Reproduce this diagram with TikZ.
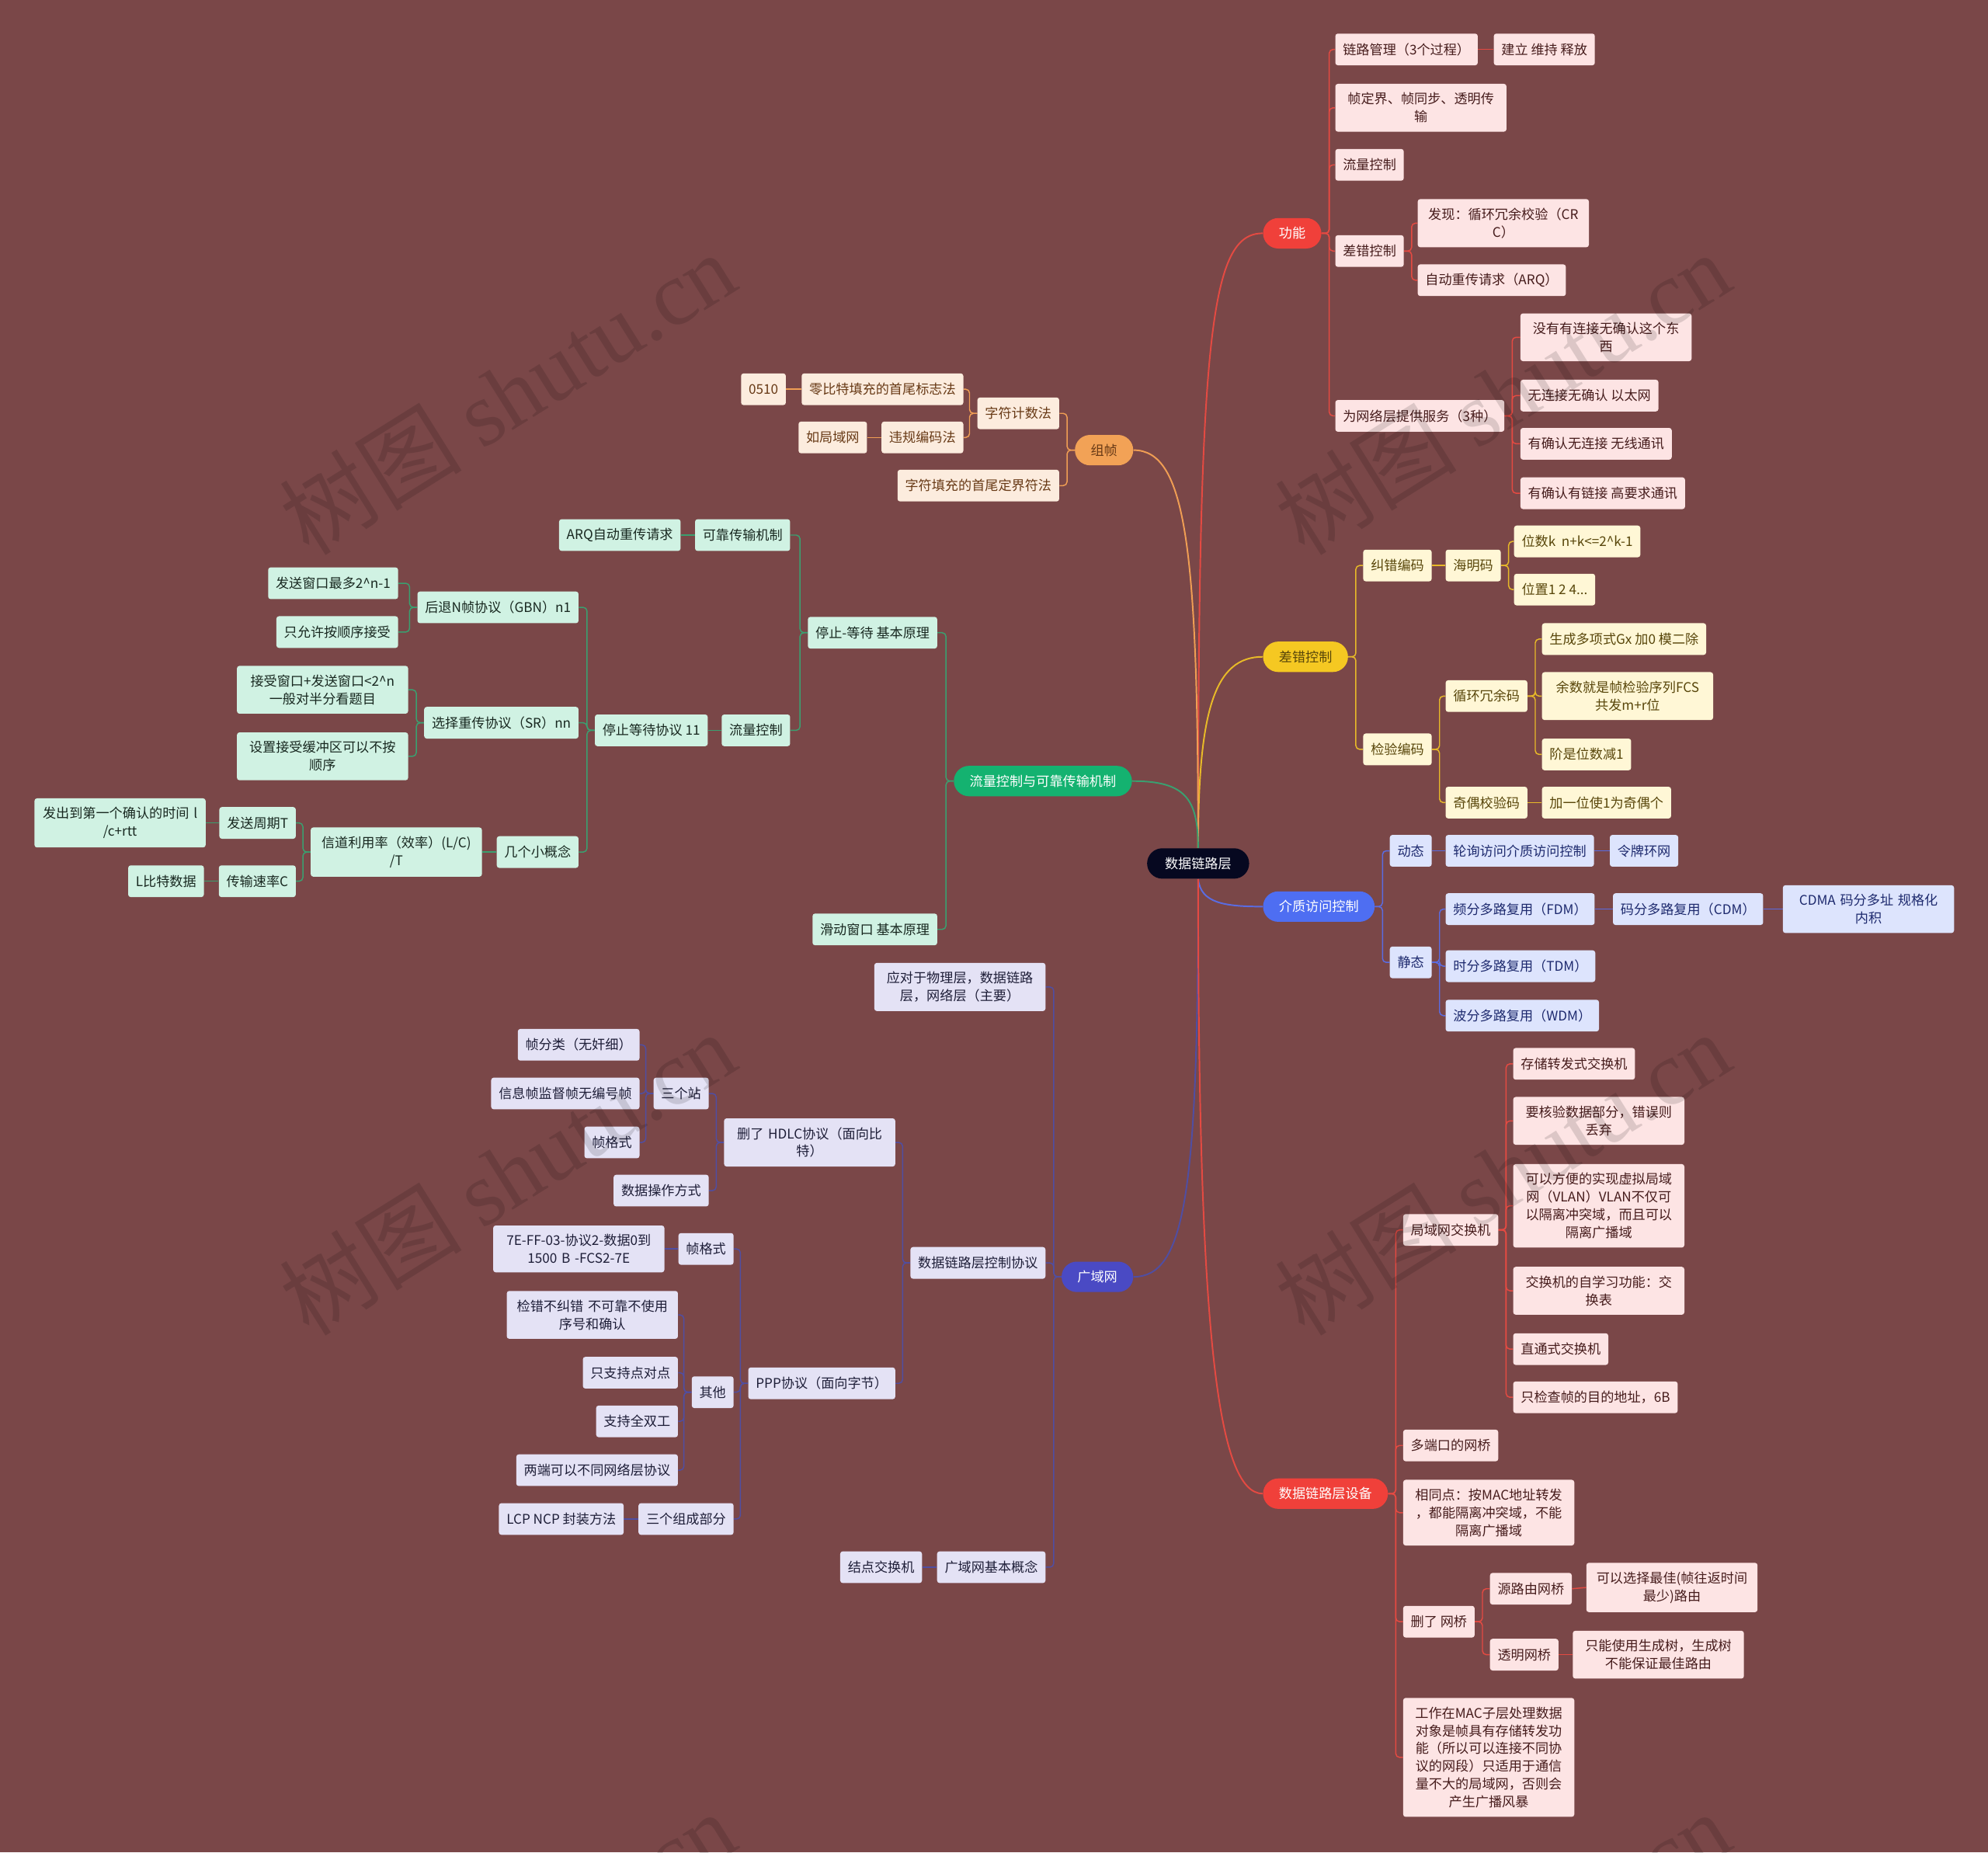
\documentclass[tikz,border=0pt]{standalone}
\usepackage{fontspec}
\setmainfont{Noto Sans CJK SC}
\newfontfamily\wmfont{Liberation Serif}
\usetikzlibrary{backgrounds}
\definecolor{bgMaroon}{RGB}{122, 71, 72}
\definecolor{rootInk}{RGB}{6, 8, 32}
\definecolor{redPill}{RGB}{240, 64, 58}
\definecolor{redLine}{RGB}{228, 74, 66}
\definecolor{redFill}{RGB}{253, 228, 228}
\definecolor{redInk}{RGB}{70, 28, 28}
\definecolor{orangePill}{RGB}{242, 162, 86}
\definecolor{orangeLine}{RGB}{240, 158, 84}
\definecolor{orangeFill}{RGB}{252, 236, 222}
\definecolor{orangeInk}{RGB}{104, 58, 22}
\definecolor{yellowPill}{RGB}{245, 200, 34}
\definecolor{yellowLine}{RGB}{232, 186, 40}
\definecolor{yellowFill}{RGB}{255, 247, 214}
\definecolor{yellowInk}{RGB}{88, 70, 10}
\definecolor{greenPill}{RGB}{20, 178, 112}
\definecolor{greenLine}{RGB}{58, 160, 112}
\definecolor{greenFill}{RGB}{208, 242, 227}
\definecolor{greenInk}{RGB}{24, 40, 32}
\definecolor{bluePill}{RGB}{78, 110, 242}
\definecolor{blueLine}{RGB}{90, 108, 226}
\definecolor{blueFill}{RGB}{221, 228, 253}
\definecolor{blueInk}{RGB}{30, 42, 110}
\definecolor{indigoPill}{RGB}{74, 74, 196}
\definecolor{indigoLine}{RGB}{80, 78, 162}
\definecolor{indigoFill}{RGB}{228, 226, 245}
\definecolor{indigoInk}{RGB}{30, 30, 56}

\begin{document}
\begin{tikzpicture}[
        x=1pt, y=-1pt,
        every node/.style={font=\fontsize{10.5pt}{14pt}\selectfont},
        leaf/.style={rounded corners=2pt, inner xsep=6pt, inner ysep=7pt, minimum height=25pt, align=center},
        leafwide/.style={text width=123pt},
        pill/.style={rounded corners=12pt, inner xsep=12.5pt, inner ysep=6pt, minimum height=24pt},
        fnBox/.style={leaf, fill=redFill, text=redInk},
        zzBox/.style={leaf, fill=orangeFill, text=orangeInk},
        ccBox/.style={leaf, fill=yellowFill, text=yellowInk},
        llBox/.style={leaf, fill=greenFill, text=greenInk},
        jzBox/.style={leaf, fill=blueFill, text=blueInk},
        gyBox/.style={leaf, fill=indigoFill, text=indigoInk},
        lnk/.style={rounded corners=3pt, line width=0.9pt},
        stem/.style={line width=1.2pt},
        wm/.style={font=\fontsize{72pt}{72pt}\selectfont, text=black, text opacity=0.13, rotate=32}
    ]
        \useasboundingbox (0,0) rectangle (1568,1461);
        \begin{pgfonlayer}{background}
            \fill[bgMaroon] (0,0) rectangle (1568,1461);
        \end{pgfonlayer}

        % Root and main branches
        \node[pill, inner xsep=14pt, fill=rootInk, text=white] (root) at (945,681) {数据链路层};
        \node[pill, anchor=west, fill=redPill, text=white] (gn) at (996,184) {功能};
        \node[pill, anchor=east, fill=orangePill, text=orangeInk] (zz) at (894,355) {组帧};
        \node[pill, anchor=west, fill=yellowPill, text=yellowInk] (cc) at (996,518) {差错控制};
        \node[pill, anchor=east, fill=greenPill, text=white] (ll) at (893,616) {流量控制与可靠传输机制};
        \node[pill, anchor=west, fill=bluePill, text=white] (jz) at (996,715) {介质访问控制};
        \node[pill, anchor=east, fill=indigoPill, text=white] (gy) at (894,1007) {广域网};
        \node[pill, anchor=west, fill=redPill, text=white] (sb) at (996,1178) {数据链路层设备};

        % 功能
        \node[fnBox, anchor=west] (gn1) at (1053,39) {链路管理（3个过程）};
        \node[fnBox, anchor=west] (gn1a) at (1178,39) {建立 维持 释放};
        \node[fnBox, leafwide, anchor=west] (gn2) at (1053,85) {帧定界、帧同步、透明传\\输};
        \node[fnBox, anchor=west] (gn3) at (1053,130) {流量控制};
        \node[fnBox, anchor=west] (gn4) at (1053,198) {差错控制};
        \node[fnBox, leafwide, anchor=west] (gn4a) at (1118,176) {发现：循环冗余校验（CR\\C）};
        \node[fnBox, anchor=west] (gn4b) at (1118,221) {自动重传请求（ARQ）};
        \node[fnBox, anchor=west] (gn5) at (1053,328) {为网络层提供服务（3种）};
        \node[fnBox, leafwide, anchor=west] (gn5a) at (1199,266) {没有有连接无确认这个东\\西};
        \node[fnBox, anchor=west] (gn5b) at (1199,312) {无连接无确认 以太网};
        \node[fnBox, anchor=west] (gn5c) at (1199,350) {有确认无连接 无线通讯};
        \node[fnBox, anchor=west] (gn5d) at (1199,389) {有确认有链接 高要求通讯};

        % 组帧
        \node[zzBox, anchor=east] (zz1) at (835.6,326) {字符计数法};
        \node[zzBox, anchor=east] (zz1a) at (760,307) {零比特填充的首尾标志法};
        \node[zzBox, anchor=east] (zz1a1) at (620,307) {0510};
        \node[zzBox, anchor=east] (zz1b) at (760,345) {违规编码法};
        \node[zzBox, anchor=east] (zz1b1) at (684,345) {如局域网};
        \node[zzBox, anchor=east] (zz2) at (835.6,383) {字符填充的首尾定界符法};

        % 差错控制
        \node[ccBox, anchor=west] (cc1) at (1075,446) {纠错编码};
        \node[ccBox, anchor=west] (cc1a) at (1140,446) {海明码};
        \node[ccBox, anchor=west] (cc1a1) at (1194,427) {位数k\ \ n+k<=2\textasciicircum k-1};
        \node[ccBox, anchor=west] (cc1a2) at (1194,465) {位置1 2 4...};
        \node[ccBox, anchor=west] (cc2) at (1075,591) {检验编码};
        \node[ccBox, anchor=west] (cc2a) at (1140,549) {循环冗余码};
        \node[ccBox, anchor=west] (cc2a1) at (1216,504) {生成多项式Gx 加0 模二除};
        \node[ccBox, leafwide, anchor=west] (cc2a2) at (1216,549) {余数就是帧检验序列FCS\\共发m+r位};
        \node[ccBox, anchor=west] (cc2a3) at (1216,595) {阶是位数减1};
        \node[ccBox, anchor=west] (cc2b) at (1140,633) {奇偶校验码};
        \node[ccBox, anchor=west] (cc2b1) at (1216,633) {加一位使1为奇偶个};

        % 流量控制与可靠传输机制
        \node[llBox, anchor=east] (ll1) at (739.4,499) {停止-等待 基本原理};
        \node[llBox, anchor=east] (ll2) at (739.4,733) {滑动窗口 基本原理};
        \node[llBox, anchor=east] (ll1a) at (623.4,422) {可靠传输机制};
        \node[llBox, anchor=east] (ll1a1) at (537,422) {ARQ自动重传请求};
        \node[llBox, anchor=east] (ll1b) at (623.4,576) {流量控制};
        \node[llBox, anchor=east] (ll1b1) at (558.4,576) {停止等待协议 11};
        \node[llBox, anchor=east] (g1) at (456.5,479) {后退N帧协议（GBN）n1};
        \node[llBox, anchor=east] (g1a) at (314.2,460) {发送窗口最多2\textasciicircum n-1};
        \node[llBox, anchor=east] (g1b) at (314.2,498.5) {只允许按顺序接受};
        \node[llBox, anchor=east] (g2) at (456.5,570) {选择重传协议（SR）nn};
        \node[llBox, leafwide, anchor=east] (g2a) at (322.1,544) {接受窗口+发送窗口<2\textasciicircum n\\一般对半分看题目};
        \node[llBox, leafwide, anchor=east] (g2b) at (322.1,596.5) {设置接受缓冲区可以不按\\顺序};
        \node[llBox, anchor=east] (g3) at (456.5,672) {几个小概念};
        \node[llBox, leafwide, anchor=east] (g3a) at (380.3,672) {信道利用率（效率）(L/C)\\/T};
        \node[llBox, anchor=east] (g3a1) at (233.5,649) {发送周期T};
        \node[llBox, leafwide, anchor=east] (g3a1a) at (162.4,649) {发出到第一个确认的时间 l\\/c+rtt};
        \node[llBox, anchor=east] (g3a2) at (233.5,695) {传输速率C};
        \node[llBox, anchor=east] (g3a2a) at (161,695) {L比特数据};

        % 介质访问控制
        \node[jzBox, anchor=west] (jz1) at (1096,671) {动态};
        \node[jzBox, anchor=west] (jz1a) at (1140,671) {轮询访问介质访问控制};
        \node[jzBox, anchor=west] (jz1a1) at (1269.5,671) {令牌环网};
        \node[jzBox, anchor=west] (jz2) at (1096,759) {静态};
        \node[jzBox, anchor=west] (jz2a) at (1140,717) {频分多路复用（FDM）};
        \node[jzBox, anchor=west] (jz2a1) at (1272,717) {码分多路复用（CDM）};
        \node[jzBox, leafwide, anchor=west] (jz2a2) at (1406,717) {CDMA 码分多址 规格化\\内积};
        \node[jzBox, anchor=west] (jz2b) at (1140,762) {时分多路复用（TDM）};
        \node[jzBox, anchor=west] (jz2c) at (1140,801) {波分多路复用（WDM）};

        % 广域网
        \node[gyBox, leafwide, anchor=east] (gy1) at (824.8,778.4) {应对于物理层，数据链路\\层，网络层（主要）};
        \node[gyBox, anchor=east] (gy2) at (824.8,996) {数据链路层控制协议};
        \node[gyBox, anchor=east] (gy3) at (824.8,1236) {广域网基本概念};
        \node[gyBox, anchor=east] (gy3a) at (727.4,1236) {结点交换机};
        \node[gyBox, leafwide, anchor=east] (gy2a) at (706.3,901) {删了 HDLC协议（面向比\\特）};
        \node[gyBox, anchor=east] (gy2b) at (706.3,1091) {PPP协议（面向字节）};
        \node[gyBox, anchor=east] (h1) at (559.2,862.4) {三个站};
        \node[gyBox, anchor=east] (h1a) at (504.6,824) {帧分类（无奸细）};
        \node[gyBox, anchor=east] (h1b) at (504.6,862.4) {信息帧监督帧无编号帧};
        \node[gyBox, anchor=east] (h1c) at (504.6,901) {帧格式};
        \node[gyBox, anchor=east] (h2) at (559.2,939) {数据操作方式};
        \node[gyBox, anchor=east] (p1) at (578.8,985) {帧格式};
        \node[gyBox, leafwide, anchor=east] (p1a) at (524.2,985) {7E-FF-03-协议2-数据0到\\1500 B -FCS2-7E};
        \node[gyBox, anchor=east] (p2) at (578.8,1098) {其他};
        \node[gyBox, leafwide, anchor=east] (p2a) at (534.9,1037) {检错不纠错 不可靠不使用\\序号和确认};
        \node[gyBox, anchor=east] (p2b) at (534.9,1082.6) {只支持点对点};
        \node[gyBox, anchor=east] (p2c) at (534.9,1121) {支持全双工};
        \node[gyBox, anchor=east] (p2d) at (534.9,1159.5) {两端可以不同网络层协议};
        \node[gyBox, anchor=east] (p3) at (578.8,1198) {三个组成部分};
        \node[gyBox, anchor=east] (p3a) at (492.1,1198) {LCP NCP 封装方法};

        % 数据链路层设备
        \node[fnBox, anchor=west] (sb1) at (1106.5,970) {局域网交换机};
        \node[fnBox, anchor=west] (sb1a) at (1193.3,839) {存储转发式交换机};
        \node[fnBox, leafwide, anchor=west] (sb1b) at (1193.3,884) {要核验数据部分，错误则\\丢弃};
        \node[fnBox, leafwide, anchor=west] (sb1c) at (1193.3,951) {可以方便的实现虚拟局域\\网（VLAN）VLAN不仅可\\以隔离冲突域，而且可以\\隔离广播域};
        \node[fnBox, leafwide, anchor=west] (sb1d) at (1193.3,1018) {交换机的自学习功能：交\\换表};
        \node[fnBox, anchor=west] (sb1e) at (1193.3,1064) {直通式交换机};
        \node[fnBox, anchor=west] (sb1f) at (1193.3,1102) {只检查帧的目的地址，6B};
        \node[fnBox, anchor=west] (sb2) at (1106.5,1140) {多端口的网桥};
        \node[fnBox, leafwide, anchor=west] (sb3) at (1106.5,1193) {相同点：按MAC地址转发\\，都能隔离冲突域，不能\\隔离广播域};
        \node[fnBox, anchor=west] (sb4) at (1106.5,1279) {删了 网桥};
        \node[fnBox, anchor=west] (sb4a) at (1175,1253) {源路由网桥};
        \node[fnBox, leafwide, anchor=west] (sb4a1) at (1251,1252) {可以选择最佳(帧往返时间\\最少)路由};
        \node[fnBox, anchor=west] (sb4b) at (1175,1305) {透明网桥};
        \node[fnBox, leafwide, anchor=west] (sb4b1) at (1240.3,1305) {只能使用生成树，生成树\\不能保证最佳路由};
        \node[fnBox, leafwide, anchor=west] (sb5) at (1106.5,1386) {工作在MAC子层处理数据\\对象是帧具有存储转发功\\能（所以可以连接不同协\\议的网段）只适用于通信\\量不大的局域网，否则会\\产生广播风暴};

        % Connectors
        \begin{pgfonlayer}{background}
            \draw[stem, redLine] (root.north) .. controls (945,260) and (955,184) .. (gn.west);
            \draw[stem, yellowLine] (root.north) .. controls (945,560) and (958,518) .. (cc.west);
            \draw[stem, orangeLine] (zz.east) .. controls (935,355) and (945,430) .. (root.north);
            \draw[stem, greenLine] (ll.east) .. controls (935,616) and (945,630) .. (root.north);
            \draw[stem, blueLine] (root.south) .. controls (947,712) and (965,715) .. (jz.west);
            \draw[stem, indigoLine] (root.south) .. controls (945,940) and (935,1007) .. (gy.east);
            \draw[stem, redLine] (root.south) .. controls (945,1050) and (960,1178) .. (sb.west);

            \begin{scope}[lnk, redLine]
                \foreach \c in {gn1,gn2,gn3,gn4,gn5} \draw (gn.east) -- ++(6,0) |- (\c.west);
                \draw (gn1.east) -- (gn1a.west);
                \foreach \c in {gn4a,gn4b} \draw (gn4.east) -- ++(6,0) |- (\c.west);
                \foreach \c in {gn5a,gn5b,gn5c,gn5d} \draw (gn5.east) -- ++(6,0) |- (\c.west);
                \foreach \c in {sb1,sb2,sb3,sb4,sb5} \draw (sb.east) -- ++(6,0) |- (\c.west);
                \foreach \c in {sb1a,sb1b,sb1c,sb1d,sb1e,sb1f} \draw (sb1.east) -- ++(6,0) |- (\c.west);
                \foreach \c in {sb4a,sb4b} \draw (sb4.east) -- ++(6,0) |- (\c.west);
                \draw (sb4a.east) -- (sb4a1.west);
                \draw (sb4b.east) -- (sb4b1.west);
            \end{scope}

            \begin{scope}[lnk, orangeLine]
                \foreach \c in {zz1,zz2} \draw (zz.west) -- ++(-6,0) |- (\c.east);
                \foreach \c in {zz1a,zz1b} \draw (zz1.west) -- ++(-6,0) |- (\c.east);
                \draw (zz1a.west) -- (zz1a1.east);
                \draw (zz1b.west) -- (zz1b1.east);
            \end{scope}

            \begin{scope}[lnk, yellowLine]
                \foreach \c in {cc1,cc2} \draw (cc.east) -- ++(6,0) |- (\c.west);
                \draw (cc1.east) -- (cc1a.west);
                \foreach \c in {cc1a1,cc1a2} \draw (cc1a.east) -- ++(6,0) |- (\c.west);
                \foreach \c in {cc2a,cc2b} \draw (cc2.east) -- ++(6,0) |- (\c.west);
                \foreach \c in {cc2a1,cc2a2,cc2a3} \draw (cc2a.east) -- ++(6,0) |- (\c.west);
                \draw (cc2b.east) -- (cc2b1.west);
            \end{scope}

            \begin{scope}[lnk, greenLine]
                \foreach \c in {ll1,ll2} \draw (ll.west) -- ++(-6,0) |- (\c.east);
                \foreach \c in {ll1a,ll1b} \draw (ll1.west) -- ++(-6,0) |- (\c.east);
                \draw (ll1a.west) -- (ll1a1.east);
                \draw (ll1b.west) -- (ll1b1.east);
                \foreach \c in {g1,g2,g3} \draw (ll1b1.west) -- ++(-6,0) |- (\c.east);
                \foreach \c in {g1a,g1b} \draw (g1.west) -- ++(-6,0) |- (\c.east);
                \foreach \c in {g2a,g2b} \draw (g2.west) -- ++(-6,0) |- (\c.east);
                \draw (g3.west) -- (g3a.east);
                \foreach \c in {g3a1,g3a2} \draw (g3a.west) -- ++(-6,0) |- (\c.east);
                \draw (g3a1.west) -- (g3a1a.east);
                \draw (g3a2.west) -- (g3a2a.east);
            \end{scope}

            \begin{scope}[lnk, blueLine]
                \foreach \c in {jz1,jz2} \draw (jz.east) -- ++(6,0) |- (\c.west);
                \draw (jz1.east) -- (jz1a.west);
                \draw (jz1a.east) -- (jz1a1.west);
                \foreach \c in {jz2a,jz2b,jz2c} \draw (jz2.east) -- ++(6,0) |- (\c.west);
                \draw (jz2a.east) -- (jz2a1.west);
                \draw (jz2a1.east) -- (jz2a2.west);
            \end{scope}

            \begin{scope}[lnk, indigoLine]
                \foreach \c in {gy1,gy2,gy3} \draw (gy.west) -- ++(-6,0) |- (\c.east);
                \draw (gy3.west) -- (gy3a.east);
                \foreach \c in {gy2a,gy2b} \draw (gy2.west) -- ++(-6,0) |- (\c.east);
                \foreach \c in {h1,h2} \draw (gy2a.west) -- ++(-6,0) |- (\c.east);
                \foreach \c in {h1a,h1b,h1c} \draw (h1.west) -- ++(-6,0) |- (\c.east);
                \foreach \c in {p1,p2,p3} \draw (gy2b.west) -- ++(-6,0) |- (\c.east);
                \draw (p1.west) -- (p1a.east);
                \foreach \c in {p2a,p2b,p2c,p2d} \draw (p2.west) -- ++(-6,0) |- (\c.east);
                \draw (p3.west) -- (p3a.east);
            \end{scope}
        \end{pgfonlayer}

        % Watermark
        \node[wm] (wm1) at (400,310) {树图 {\wmfont shutu.cn}};
        \node[wm] (wm2) at (1185,310) {树图 {\wmfont shutu.cn}};
        \node[wm] (wm3) at (400,925) {树图 {\wmfont shutu.cn}};
        \node[wm] (wm4) at (1185,925) {树图 {\wmfont shutu.cn}};
        \node[wm] (wm5) at (400,1540) {树图 {\wmfont shutu.cn}};
        \node[wm] (wm6) at (1185,1540) {树图 {\wmfont shutu.cn}};
    \end{tikzpicture}
\end{document}
